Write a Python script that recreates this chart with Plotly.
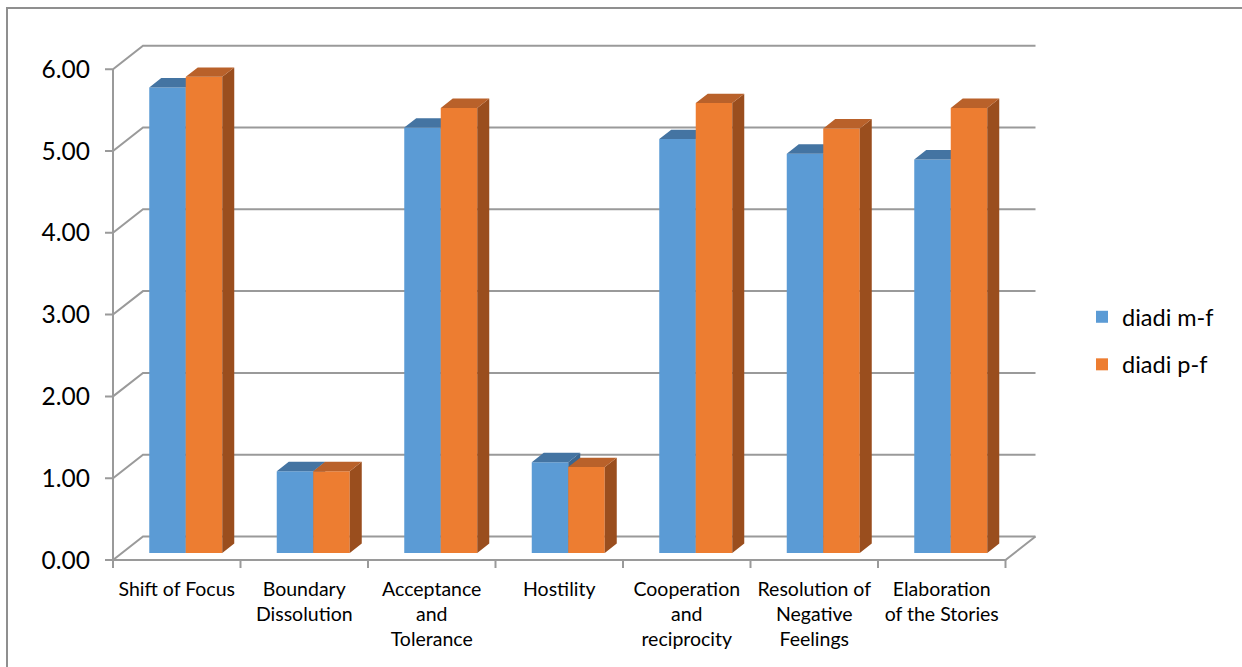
import plotly.graph_objects as go

# ---- data -------------------------------------------------------------
categories = [
    "Shift of Focus",
    "Boundary<br>Dissolution",
    "Acceptance<br>and<br>Tolerance",
    "Hostility",
    "Cooperation<br>and<br>reciprocity",
    "Resolution of<br>Negative<br>Feelings",
    "Elaboration<br>of the Stories",
]
series_names = ["diadi m-f", "diadi p-f"]
diadi_mf = [5.69, 1.00, 5.20, 1.11, 5.06, 4.88, 4.81]
diadi_pf = [5.82, 1.00, 5.44, 1.05, 5.50, 5.19, 5.44]
y_ticks = [0, 1, 2, 3, 4, 5, 6]

# ---- geometry of the pseudo-3D box (pixels -> axis units) -------------
W_FIG, H_FIG = 1242, 667
PLOT_L, PLOT_R, PLOT_T, PLOT_B = 91, 1050, 30, 575
PX_X0, SLOT = 113, 127.5        # pixel of the front-left corner, width of one category
PX_Y0, UNIT = 560, 81.8         # pixel of value 0 on the front plane, pixels per unit
DX = 30 / SLOT                  # depth offset of the back wall (x, axis units)
DY = 23.5 / UNIT                # depth offset of the back wall (y, axis units)
F_FRONT = 0.30                  # depth of the bar front faces (fraction of box depth)
D_BAR = 0.40                    # bar thickness (fraction of box depth)
BAR_W = 36.5 / SLOT
TICK_Y = 8 / SLOT
TICK_X = 8 / UNIT

x_range = [(PLOT_L - PX_X0) / SLOT, (PLOT_R - PX_X0) / SLOT]
y_range = [(PX_Y0 - PLOT_B) / UNIT, (PX_Y0 - PLOT_T) / UNIT]
n_cat = len(categories)

GRID = "#9a9a9a"
FONT = "Lato"

front_colors = ["#5B9BD5", "#ED7D31"]
top_colors = ["#4474A2", "#B9612A"]
side_colors = ["#3A6690", "#9A4E1E"]


def px_to_paper_x(px):
    return (px - PLOT_L) / (PLOT_R - PLOT_L)


def px_to_paper_y(py):
    return (PLOT_B - py) / (PLOT_B - PLOT_T)


fig = go.Figure()

# ---- back wall gridlines, floor, front axis (drawn below the bars) ----
shapes = []
line = dict(color=GRID, width=2)
for v in y_ticks:
    path = (f"M {-TICK_Y},{v} L 0,{v} L {DX},{v + DY} L {n_cat + DX},{v + DY}")
    shapes.append(dict(type="path", path=path, xref="x", yref="y",
                       line=line, layer="below"))
# front axis line
shapes.append(dict(type="line", x0=0, x1=0, y0=y_ticks[0], y1=y_ticks[-1],
                   xref="x", yref="y", line=line, layer="below"))
# floor front edge and right edge
shapes.append(dict(type="path",
                   path=f"M 0,0 L {n_cat},0 L {n_cat + DX},{DY}",
                   xref="x", yref="y", line=line, layer="below"))
# category tick marks
for i in range(n_cat + 1):
    shapes.append(dict(type="line", x0=i, x1=i, y0=0, y1=-TICK_X,
                       xref="x", yref="y", line=line, layer="below"))
# outer chart frame
shapes.append(dict(type="rect", xref="paper", yref="paper",
                   x0=px_to_paper_x(7), x1=px_to_paper_x(1260),
                   y0=px_to_paper_y(690), y1=px_to_paper_y(8),
                   line=dict(color="#8f8f8f", width=2), layer="below"))

# ---- bars: one overlaid subplot per series so later series sit on top --
base = F_FRONT * DY
ddx, ddy = D_BAR * DX, D_BAR * DY
for k, (name, vals) in enumerate(zip(series_names, [diadi_mf, diadi_pf])):
    xa = "x" if k == 0 else f"x{k + 1}"
    ya = "y" if k == 0 else f"y{k + 1}"
    centers = [i + 0.5 + F_FRONT * DX + (k - 0.5) * BAR_W for i in range(n_cat)]
    fig.add_trace(go.Bar(
        x=centers, y=vals, base=base, width=BAR_W, name=name,
        marker=dict(color=front_colors[k], line=dict(width=0)),
        xaxis=xa, yaxis=ya, legendgroup=name, showlegend=True,
        hoverinfo="skip"))
    top_x, top_y, side_x, side_y = [], [], [], []
    for c, v in zip(centers, vals):
        x0, x1 = c - BAR_W / 2, c + BAR_W / 2
        t = base + v
        top_x += [x0, x1, x1 + ddx, x0 + ddx, x0, None]
        top_y += [t, t, t + ddy, t + ddy, t, None]
        side_x += [x1, x1 + ddx, x1 + ddx, x1, x1, None]
        side_y += [base, base + ddy, t + ddy, t, base, None]
    fig.add_trace(go.Scatter(
        x=side_x, y=side_y, mode="lines", fill="toself",
        fillcolor=side_colors[k], line=dict(width=0, color=side_colors[k]),
        xaxis=xa, yaxis=ya, showlegend=False, hoverinfo="skip"))
    fig.add_trace(go.Scatter(
        x=top_x, y=top_y, mode="lines", fill="toself",
        fillcolor=top_colors[k], line=dict(width=0, color=top_colors[k]),
        xaxis=xa, yaxis=ya, showlegend=False, hoverinfo="skip"))

hidden = dict(showgrid=False, zeroline=False, showline=False,
              showticklabels=False, ticks="", fixedrange=True)

fig.update_layout(
    width=W_FIG, height=H_FIG,
    margin=dict(l=PLOT_L, r=W_FIG - PLOT_R, t=PLOT_T, b=H_FIG - PLOT_B),
    paper_bgcolor="white", plot_bgcolor="white",
    barmode="overlay",
    shapes=shapes,
    font=dict(family=FONT, color="#000000"),
    xaxis=dict(range=x_range, tickvals=[i + 0.5 for i in range(n_cat)],
               ticktext=categories, tickfont=dict(size=19.5, family=FONT),
               showgrid=False, zeroline=False, showline=False, ticks=""),
    yaxis=dict(range=y_range, tickvals=y_ticks, tickformat=".2f",
               tickfont=dict(size=24.5, family=FONT),
               showgrid=False, zeroline=False, showline=False, ticks=""),
    xaxis2=dict(hidden, range=x_range, overlaying="x"),
    yaxis2=dict(hidden, range=y_range, overlaying="y"),
    legend=dict(x=px_to_paper_x(1082), y=px_to_paper_y(341),
                xanchor="left", yanchor="middle",
                traceorder="grouped", tracegroupgap=14,
                font=dict(size=23.5, family=FONT, color="#000000"),
                bgcolor="rgba(0,0,0,0)"),
    showlegend=True,
)

fig.write_html("out.html")
